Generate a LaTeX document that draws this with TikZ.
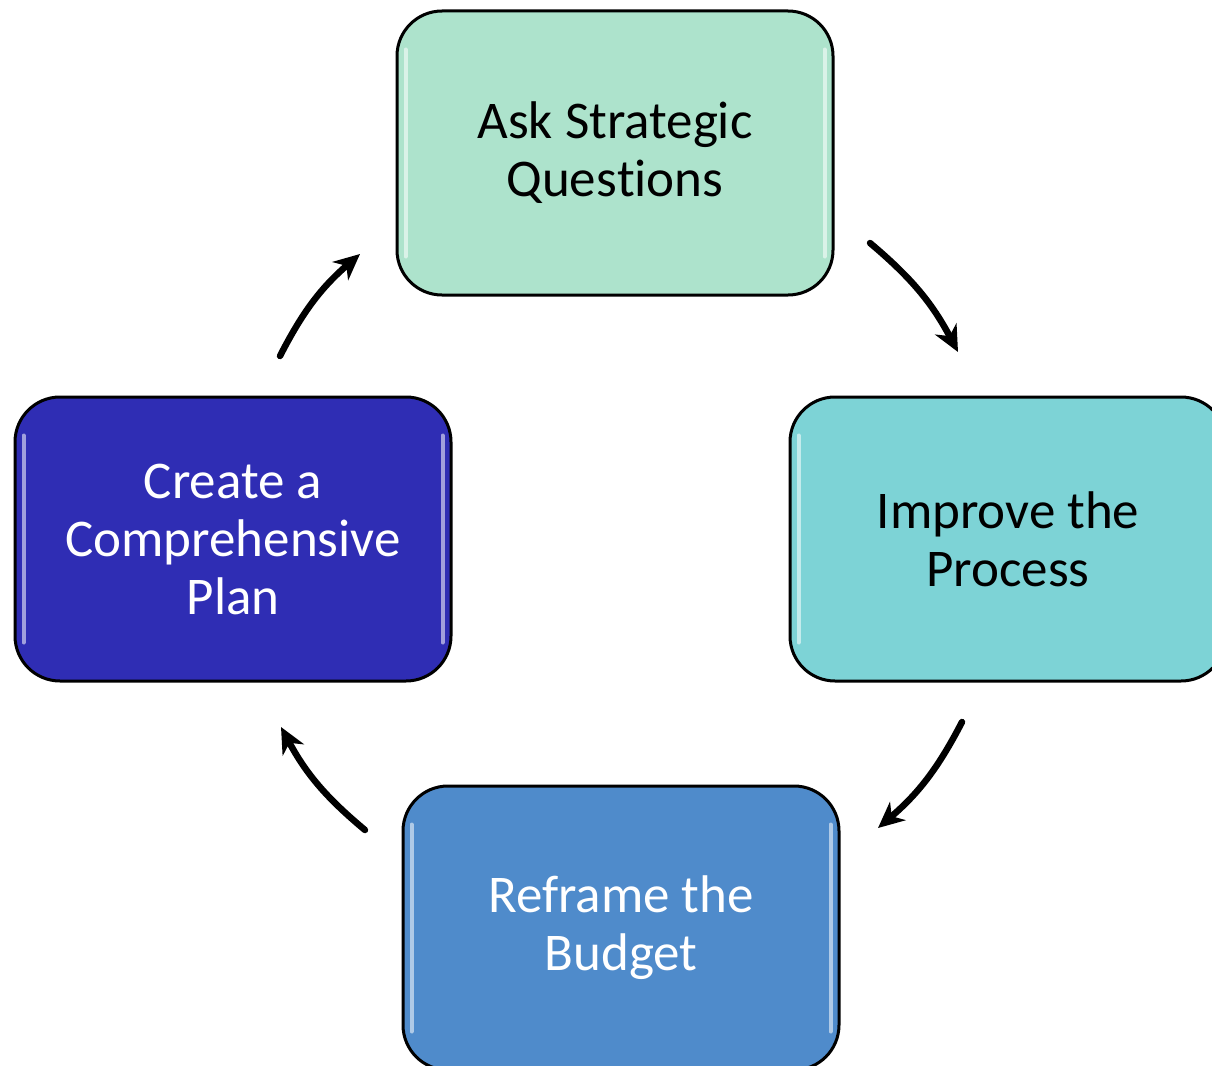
\documentclass[tikz,border=0pt]{standalone}
\usepackage{fontspec}
\setmainfont{Carlito}[Ligatures=NoCommon,RawFeature={-liga;-calt;-dlig}]
\usetikzlibrary{arrows.meta}
\definecolor{cTop}{HTML}{ADE3CC}
\definecolor{cRight}{HTML}{7DD3D6}
\definecolor{cLeft}{HTML}{2F2DB4}
\definecolor{cBottom}{HTML}{4F8BCB}
\tikzset{
  stepbox/.style={draw=black, line width=3pt, rounded corners=45pt,
    minimum width=436pt, minimum height=284pt, inner sep=0pt, align=center,
    font=\fontsize{53}{58}\selectfont},
  gloss/.style={white, opacity=0.55, line width=4pt, line cap=round},
  arr/.style={line width=6.5pt, line cap=round,
    -{Stealth[length=26pt,width=24pt,inset=8pt]}, bend left=11}
}
\begin{document}
\begin{tikzpicture}[x=1pt,y=-1pt]
\useasboundingbox (0,0) rectangle (1212,1065);
\clip (0,0) rectangle (1212,1065);
\fill[white] (0,0) rectangle (1212,1065);
\node[stepbox, fill=cTop, text=black] (ask) at (615,153) {Ask Strategic\\Ques\kern0pt tions};
\node[stepbox, fill=cRight, text=black] (imp) at (1008,539) {Improve the\\Process};
\node[stepbox, fill=cBottom, text=white] (ref) at (621,928) {Reframe the\\Budget};
\node[stepbox, fill=cLeft, text=white] (cre) at (233,539) {Create a\\Comprehensive\\Plan};
\foreach \n in {ask,imp,ref,cre}{
  \draw[gloss] ([xshift=10pt,yshift=-40pt]\n.north west) -- ([xshift=10pt,yshift=40pt]\n.south west);
  \draw[gloss] ([xshift=-10pt,yshift=-40pt]\n.north east) -- ([xshift=-10pt,yshift=40pt]\n.south east);
}
\coordinate (a1s) at (870,243);
\coordinate (a1e) at (958,352);
\coordinate (a2s) at (962,722);
\coordinate (a2e) at (878,828);
\coordinate (a3s) at (365,830);
\coordinate (a3e) at (281,727);
\coordinate (a4s) at (280,356);
\coordinate (a4e) at (360,254);
\draw[arr] (a1s) to (a1e);
\draw[arr] (a2s) to (a2e);
\draw[arr] (a3s) to (a3e);
\draw[arr] (a4s) to (a4e);
\end{tikzpicture}
\end{document}
